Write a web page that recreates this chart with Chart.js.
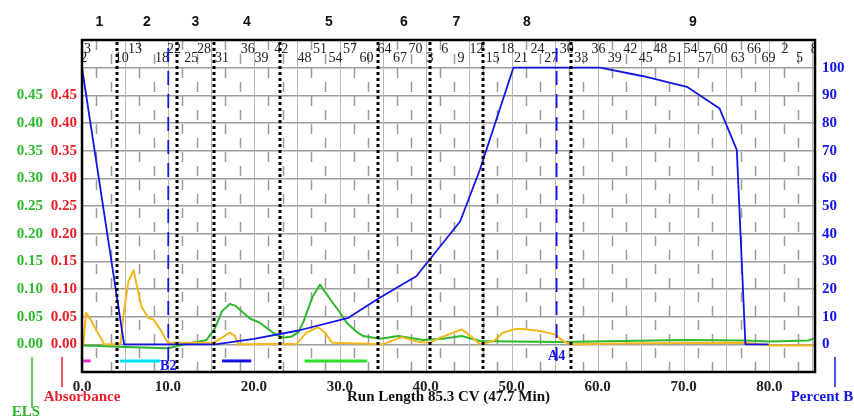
<!DOCTYPE html>
<html>
<head>
<meta charset="utf-8">
<script src="https://cdn.jsdelivr.net/npm/chart.js@4.4.0/dist/chart.umd.min.js"></script>
<style>
  html, body { margin: 0; padding: 0; background: #fff; }
</style>
</head>
<body>
<canvas id="myChart" width="854" height="418"></canvas>
<script>
// axis ticks
var xTicks = [0, 10, 20, 30, 40, 50, 60, 70, 80];
var leftTicks = [0, 0.05, 0.10, 0.15, 0.20, 0.25, 0.30, 0.35, 0.40, 0.45];
var rightTicks = [0, 10, 20, 30, 40, 50, 60, 70, 80, 90, 100];

// Percent B gradient (CV, %)
var pctBX = [0, 4.9, 15.5, 20.0, 25.2, 31.0, 34.5, 38.9, 44.0, 46.3, 50.2, 60.3, 65.3, 70.4, 74.2, 76.2, 77.2, 79.9];
var pctBY = [100, 0, 0, 2.0, 5.0, 9.6, 16.6, 24.6, 44.4, 63.1, 100, 100, 96.9, 93.1, 85.2, 70.3, 0, 0];

// ELS trace
var elsX = [0, 2, 5, 10, 12, 14.5, 15.5, 16.3, 17.2, 17.8, 19.5, 20.7, 22.3, 23.4, 24.4, 25.2, 25.8, 26.8, 27.7, 28.9, 30.0, 30.8, 32.0, 32.7, 34.7, 36.8, 39.7, 42.0, 44.2, 46.3, 50, 56, 63, 70, 77, 80, 84.5, 85.3];
var elsY = [-0.002, -0.003, -0.005, -0.007, 0.0, 0.008, 0.030, 0.060, 0.073, 0.070, 0.047, 0.039, 0.020, 0.012, 0.014, 0.022, 0.042, 0.085, 0.108, 0.081, 0.058, 0.039, 0.022, 0.015, 0.010, 0.015, 0.008, 0.010, 0.015, 0.006, 0.005, 0.004, 0.006, 0.008, 0.007, 0.005, 0.007, 0.011];

// Absorbance trace
var absX = [0, 0.15, 0.47, 1.1, 1.7, 2.3, 2.5, 4.0, 4.5, 4.8, 5.4, 6.0, 6.4, 6.9, 7.7, 8.3, 9.1, 10.0, 13.0, 15.3, 16.3, 17.2, 17.8, 18.2, 25.0, 26.1, 27.5, 28.3, 29.1, 35.0, 37.2, 39.3, 40.5, 41.7, 44.2, 45.3, 46.3, 47.9, 49.0, 50.2, 51.0, 53.3, 55.0, 56.0, 56.8, 65, 77, 80.4, 85.3];
var absY = [0.0, 0.0, 0.057, 0.042, 0.024, 0.009, 0.0, 0.0, 0.001, 0.051, 0.114, 0.134, 0.105, 0.069, 0.048, 0.045, 0.027, 0.003, 0.003, 0.003, 0.012, 0.021, 0.015, 0.0, 0.001, 0.021, 0.031, 0.021, 0.003, 0.0, 0.013, 0.004, 0.003, 0.012, 0.027, 0.014, 0.0, 0.006, 0.021, 0.027, 0.028, 0.024, 0.018, 0.006, 0.0, 0.002, 0.003, -0.002, -0.002];

// fractions (boundaries in CV) and collected ranges
var fractionNames = ['1', '2', '3', '4', '5', '6', '7', '8', '9'];
var fractionBounds = [0, 4.07, 11.05, 15.36, 23.04, 34.44, 40.49, 46.66, 56.9, 85.3];
var collectStart = [0.1, 4.4, 16.3, 25.9];
var collectEnd = [1.0, 9.1, 19.7, 33.2];
var collectLevel = -0.03;

// tube numbers and their position (CV)
var tubeNums = ['2','3','10','13','18','22','25','28','31','36','39','42','48','51','54','57','60','64','67','70',
                '3','6','9','12','15','18','21','24','27','30','33','36','39','42','45','48','51','54','57','60','63','66','69',
                '2','5','8'];
var tubePos = [0.2, 0.64, 4.62, 6.17, 9.31, 10.7, 12.7, 14.2, 16.3, 19.3, 20.9, 23.2, 25.9, 27.7, 29.5, 31.2, 33.1, 35.2, 37.0, 38.8,
               40.5, 42.2, 44.1, 45.9, 47.8, 49.5, 51.1, 53.0, 54.6, 56.4, 58.1, 60.1, 62.0, 63.8, 65.6, 67.3, 69.1, 70.8, 72.5, 74.3, 76.3, 78.2, 79.9,
               81.8, 83.5, 85.2];

// rack change markers
var markerNames = ['B2', 'A4'];
var markerPos = [10.04, 55.23];

var BLUE = 'rgb(20,20,230)';
var GREEN = 'rgb(45,185,45)';
var RED = 'rgb(235,30,40)';
var YELLOW = 'rgb(245,182,30)';
var collectColors = ['rgb(235,40,200)', 'rgb(0,225,240)', 'rgb(20,20,230)', 'rgb(40,225,40)'];
var markerLabelLevel = [-0.04, -0.022];
var SERIF = '"Liberation Serif", "Times New Roman", serif';
var SANS = '"Liberation Sans", Arial, sans-serif';

function pts(xs, ys) {
    return xs.map(function (x, i) { return { x: x, y: ys[i] }; });
}

var datasets = [
    { label: 'Percent B', data: pts(pctBX, pctBY), yAxisID: 'yB', borderColor: BLUE, borderWidth: 1.8 },
    { label: 'Absorbance', data: pts(absX, absY), yAxisID: 'yAbs', borderColor: YELLOW, borderWidth: 2 },
    { label: 'ELS', data: pts(elsX, elsY), yAxisID: 'yELS', borderColor: GREEN, borderWidth: 2 }
];
collectStart.forEach(function (s, i) {
    datasets.push({
        label: 'collect' + i,
        data: [{ x: s, y: collectLevel }, { x: collectEnd[i], y: collectLevel }],
        yAxisID: 'yELS', borderColor: collectColors[i], borderWidth: 3
    });
});

var tickFont = { family: SERIF, size: 15, weight: 'bold' };

var decorations = {
    id: 'decorations',
    beforeDatasetsDraw: function (chart) {
        var ctx = chart.ctx, a = chart.chartArea, x = chart.scales.x;
        ctx.save();
        ctx.beginPath();
        ctx.rect(a.left, a.top, a.right - a.left, a.bottom - a.top);
        ctx.clip();
        for (var k = 1; k * 5 / 3 < 85.3; k++) {
            var px = Math.round(x.getPixelForValue(k * 5 / 3)) + 0.5;
            ctx.beginPath();
            if (k % 3 === 0) {
                ctx.setLineDash([]);
                ctx.strokeStyle = '#b8b8b8';
                ctx.lineWidth = 1;
            } else {
                ctx.setLineDash([10, 18]);
                ctx.lineDashOffset = (k % 3 === 1) ? 0 : 14;
                ctx.strokeStyle = '#9c9c9c';
                ctx.lineWidth = 1.5;
            }
            ctx.moveTo(px, a.top);
            ctx.lineTo(px, a.bottom);
            ctx.stroke();
        }
        ctx.restore();
    },
    afterDatasetsDraw: function (chart) {
        var ctx = chart.ctx, a = chart.chartArea, x = chart.scales.x, yE = chart.scales.yELS;
        ctx.save();

        // tube numbers
        ctx.save();
        ctx.beginPath();
        ctx.rect(a.left, a.top, a.right - a.left, a.bottom - a.top);
        ctx.clip();
        ctx.font = '14px ' + SERIF;
        ctx.fillStyle = '#222';
        ctx.textAlign = 'center';
        ctx.textBaseline = 'middle';
        tubeNums.forEach(function (t, i) {
            ctx.fillText(t, x.getPixelForValue(tubePos[i]), i % 2 === 0 ? a.top + 18 : a.top + 9);
        });
        ctx.restore();

        // rack markers
        markerNames.forEach(function (m, i) {
            var px = x.getPixelForValue(markerPos[i]);
            ctx.beginPath();
            ctx.setLineDash([14, 9]);
            ctx.strokeStyle = BLUE;
            ctx.lineWidth = 1.8;
            ctx.moveTo(px, a.top + 8);
            ctx.lineTo(px, a.bottom - 6);
            ctx.stroke();
            ctx.setLineDash([]);
            ctx.font = 'bold 14px ' + SERIF;
            ctx.fillStyle = BLUE;
            ctx.textAlign = 'center';
            ctx.textBaseline = 'middle';
            ctx.fillText(m, px, yE.getPixelForValue(markerLabelLevel[i]));
        });

        // fraction dividers
        ctx.strokeStyle = '#000';
        ctx.lineWidth = 3;
        ctx.setLineDash([3, 3]);
        for (var i = 1; i < fractionBounds.length - 1; i++) {
            var fx = Math.round(x.getPixelForValue(fractionBounds[i]));
            ctx.beginPath();
            ctx.moveTo(fx, a.top + 2);
            ctx.lineTo(fx, a.bottom - 2);
            ctx.stroke();
        }
        ctx.setLineDash([]);

        // fraction numbers
        ctx.font = 'bold 14px ' + SANS;
        ctx.fillStyle = '#111';
        ctx.textAlign = 'center';
        ctx.textBaseline = 'middle';
        fractionNames.forEach(function (f, i) {
            var mid = (fractionBounds[i] + fractionBounds[i + 1]) / 2;
            ctx.fillText(f, x.getPixelForValue(mid), 22);
        });

        // frame
        ctx.strokeStyle = '#000';
        ctx.lineWidth = 2.5;
        ctx.strokeRect(a.left, a.top, a.right - a.left, a.bottom - a.top);

        // axis titles
        ctx.font = 'bold 15px ' + SERIF;
        ctx.fillStyle = '#111';
        ctx.fillText('Run Length 85.3 CV (47.7 Min)', (a.left + a.right) / 2, 397);

        ctx.lineWidth = 1.5;
        ctx.strokeStyle = GREEN;
        ctx.beginPath(); ctx.moveTo(32, 357); ctx.lineTo(32, 408); ctx.stroke();
        ctx.fillStyle = GREEN;
        ctx.fillText('ELS', 26, 412);

        ctx.strokeStyle = RED;
        ctx.beginPath(); ctx.moveTo(62, 357); ctx.lineTo(62, 387); ctx.stroke();
        ctx.fillStyle = RED;
        ctx.fillText('Absorbance', 82, 397);

        ctx.strokeStyle = BLUE;
        ctx.beginPath(); ctx.moveTo(835, 357); ctx.lineTo(835, 387); ctx.stroke();
        ctx.fillStyle = BLUE;
        ctx.fillText('Percent B', 822, 397);

        ctx.restore();
    }
};

function setTicks(list) {
    return function (s) { s.ticks = list.map(function (v) { return { value: v }; }); };
}

var ctx = document.getElementById('myChart').getContext('2d');
var chart = new Chart(ctx, {
    type: 'line',
    data: { datasets: datasets },
    options: {
        responsive: false,
        animation: false,
        layout: { padding: { top: 40, left: 0, right: 0, bottom: 0 } },
        elements: { point: { radius: 0 }, line: { tension: 0, borderJoinStyle: 'round' } },
        plugins: { legend: { display: false }, tooltip: { enabled: false } },
        scales: {
            x: {
                type: 'linear', min: 0, max: 85.3,
                grid: { display: false, drawTicks: false, tickLength: 0 },
                border: { display: false },
                afterBuildTicks: setTicks(xTicks),
                afterFit: function (s) { s.height = 46; },
                ticks: {
                    autoSkip: false, maxRotation: 0, padding: 6, color: '#222', font: tickFont,
                    callback: function (v) { return v.toFixed(1); }
                }
            },
            yELS: {
                type: 'linear', position: 'left', weight: 2, min: -0.05, max: 0.55,
                grid: { display: false, drawTicks: false, tickLength: 0 },
                border: { display: false },
                afterBuildTicks: setTicks(leftTicks),
                afterFit: function (s) { s.width = 47; },
                ticks: {
                    autoSkip: false, padding: 4, color: GREEN, font: tickFont,
                    callback: function (v) { return v.toFixed(2); }
                }
            },
            yAbs: {
                type: 'linear', position: 'left', weight: 1, min: -0.05, max: 0.55,
                grid: { display: false, drawTicks: false, tickLength: 0 },
                border: { display: false },
                afterBuildTicks: setTicks(leftTicks),
                afterFit: function (s) { s.width = 35; },
                ticks: {
                    autoSkip: false, padding: 5, color: RED, font: tickFont,
                    callback: function (v) { return v.toFixed(2); }
                }
            },
            yB: {
                type: 'linear', position: 'right', min: -10, max: 110,
                grid: { color: '#9c9c9c', lineWidth: 1.5, drawTicks: false, tickLength: 0 },
                border: { display: false },
                afterBuildTicks: setTicks(rightTicks),
                afterFit: function (s) { s.width = 39; },
                ticks: { autoSkip: false, padding: 7, color: BLUE, font: tickFont }
            }
        }
    },
    plugins: [decorations]
});
</script>
</body>
</html>
